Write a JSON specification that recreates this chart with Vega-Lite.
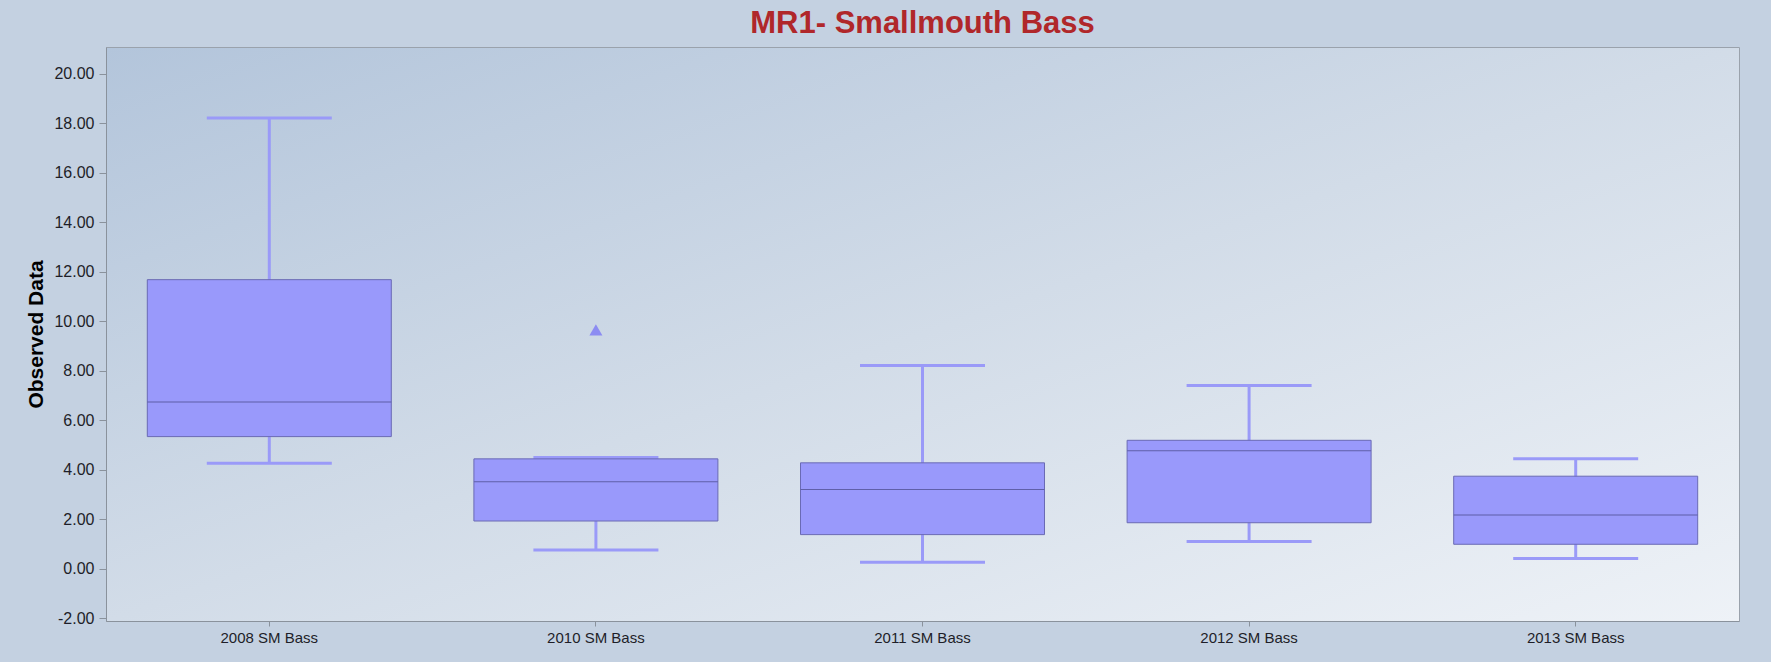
{
  "$schema": "https://vega.github.io/schema/vega-lite/v6.json",
  "width": 1633,
  "height": 574,
  "autosize": {"type": "none"},
  "padding": {"left": 106, "top": 47, "right": 32, "bottom": 41},
  "background": "#c4d1e1",
  "title": {
    "text": "MR1- Smallmouth Bass",
    "anchor": "middle",
    "font": "Liberation Sans",
    "fontSize": 31,
    "fontWeight": "bold",
    "color": "#b0272a",
    "offset": 7
  },
  "config": {
    "view": {
      "stroke": "#9aa2ac",
      "strokeWidth": 1,
      "fill": {
        "gradient": "linear",
        "x1": 0, "y1": 0, "x2": 1, "y2": 1,
        "stops": [
          {"offset": 0, "color": "#b3c5db"},
          {"offset": 0.5, "color": "#d2dce8"},
          {"offset": 1, "color": "#eef2f7"}
        ]
      }
    },
    "axis": {
      "labelFont": "Liberation Sans",
      "titleFont": "Liberation Sans",
      "labelColor": "#1e1e28",
      "titleColor": "#000000",
      "domainColor": "#8a929c",
      "tickColor": "#8a929c",
      "grid": false
    }
  },
  "datasets": {
    "boxes": [
      {"group": "2008 SM Bass", "lower": 4.26, "q1": 5.34, "median": 6.74, "q3": 11.68, "upper": 18.21},
      {"group": "2010 SM Bass", "lower": 0.76, "q1": 1.93, "median": 3.52, "q3": 4.44, "upper": 4.5},
      {"group": "2011 SM Bass", "lower": 0.26, "q1": 1.38, "median": 3.2, "q3": 4.28, "upper": 8.21},
      {"group": "2012 SM Bass", "lower": 1.1, "q1": 1.86, "median": 4.77, "q3": 5.19, "upper": 7.4},
      {"group": "2013 SM Bass", "lower": 0.42, "q1": 0.99, "median": 2.17, "q3": 3.74, "upper": 4.44}
    ],
    "outliers": [
      {"group": "2010 SM Bass", "value": 9.65}
    ]
  },
  "data": {"name": "boxes"},
  "encoding": {
    "x": {
      "field": "group",
      "type": "nominal",
      "sort": null,
      "scale": {"paddingInner": 0, "paddingOuter": 0},
      "axis": {
        "title": null,
        "labelAngle": 0,
        "labelFontSize": 15,
        "tickSize": 5,
        "labelPadding": 4
      }
    }
  },
  "layer": [
    {
      "mark": {"type": "rule", "color": "#9a9af8", "strokeWidth": 3},
      "encoding": {
        "y": {
          "field": "lower",
          "type": "quantitative",
          "scale": {"domain": [-2.11, 21.08], "nice": false, "zero": false},
          "axis": {
            "title": "Observed Data",
            "titleFontSize": 21,
            "titleFontWeight": "bold",
            "titleX": -70,
            "titleBaseline": "middle",
            "values": [-2, 0, 2, 4, 6, 8, 10, 12, 14, 16, 18, 20],
            "labelExpr": "replace(format(datum.value, '.2f'), '\u2212', '-')",
            "labelFontSize": 16,
            "tickSize": 7,
            "labelPadding": 5
          }
        },
        "y2": {"field": "upper"}
      }
    },
    {
      "mark": {"type": "tick", "color": "#9a9af8", "thickness": 3, "size": 125, "opacity": 1},
      "encoding": {"y": {"field": "lower", "type": "quantitative"}}
    },
    {
      "mark": {"type": "tick", "color": "#9a9af8", "thickness": 3, "size": 125, "opacity": 1},
      "encoding": {"y": {"field": "upper", "type": "quantitative"}}
    },
    {
      "mark": {"type": "bar", "fill": "#9999fb", "stroke": "#6a6ab4", "strokeWidth": 1, "width": 244, "opacity": 1},
      "encoding": {
        "y": {"field": "q1", "type": "quantitative"},
        "y2": {"field": "q3"}
      }
    },
    {
      "mark": {"type": "tick", "color": "#5f5fa8", "thickness": 1, "size": 244, "opacity": 1},
      "encoding": {"y": {"field": "median", "type": "quantitative"}}
    },
    {
      "data": {"name": "outliers"},
      "mark": {"type": "point", "shape": "triangle-up", "filled": true, "size": 170, "color": "#8c8cf2", "opacity": 1},
      "encoding": {
        "x": {"field": "group", "type": "nominal", "sort": null},
        "y": {"field": "value", "type": "quantitative"}
      }
    }
  ]
}
